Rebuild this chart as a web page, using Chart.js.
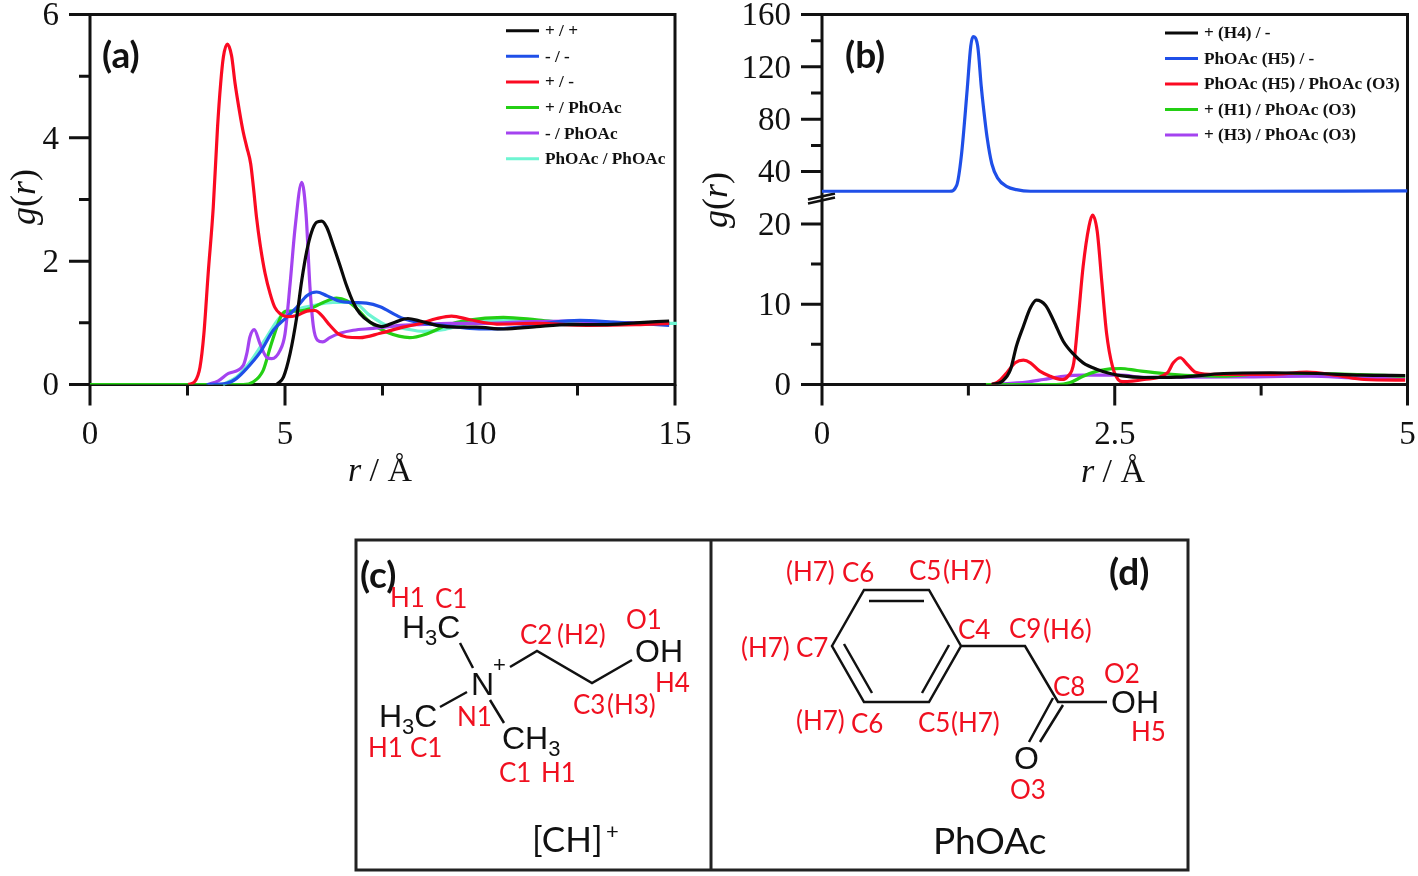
<!DOCTYPE html>
<html>
<head>
<meta charset="utf-8">
<title>g(r)</title>
<script src="https://cdn.jsdelivr.net/npm/chart.js@4"></script>
<style>
  body { margin: 0; background: #fff; width: 1418px; height: 876px; position: relative; overflow: hidden; }
  canvas { position: absolute; top: 0; }
  #chartA { left: 0; }
  #chartB { left: 700px; }
  .axis-title { position: absolute; font: 34px "Liberation Serif", serif; color: #111; white-space: nowrap; transform: translate(-50%, -50%); }
  .axis-title.rot { font-size: 36px; transform: translate(-50%, -50%) rotate(-90deg); }
  svg { position: absolute; left: 0; top: 0; }
  svg .bond { stroke: #111; stroke-width: 2.5; fill: none; }
  svg .atom { font: 32px "Liberation Sans", sans-serif; fill: #111; }
  svg .sub { font-size: 22px; }
  svg .red { font: 26px Lato, sans-serif; fill: #f01020; }
  svg .tag { font: bold 37px Lato, sans-serif; fill: #111; }
  svg .name { font: 37px Lato, sans-serif; fill: #111; }
</style>
</head>
<body>
<canvas id="chartA" width="700" height="490"></canvas>
<canvas id="chartB" width="718" height="490"></canvas>

<div class="axis-title rot" style="left:23px;top:197px"><i>g</i>(<i>r</i>)</div>
<div class="axis-title" style="left:380px;top:470px"><i>r</i> / Å</div>
<div class="axis-title rot" style="left:715px;top:200px"><i>g</i>(<i>r</i>)</div>
<div class="axis-title" style="left:1113px;top:471px"><i>r</i> / Å</div>

<svg width="1418" height="876">
  <text class="tag" x="102" y="68">(a)</text>
  <text class="tag" x="845" y="68">(b)</text>

  <rect x="356" y="540" width="832" height="330" fill="none" stroke="#222" stroke-width="3"/>
  <line x1="711" y1="540" x2="711" y2="870" stroke="#222" stroke-width="3"/>

  <!-- [CH]+ -->
  <path class="bond" d="M460 643L473 668M510 667L537 651L592 683L632 660M467 692L440 707M490 700L504 723"/>
  <text class="atom" x="402" y="638">H<tspan class="sub" dy="7">3</tspan><tspan dy="-7">C</tspan></text>
  <text class="atom" x="471" y="695">N</text>
  <text class="atom" x="493" y="672" style="font-size:22px">+</text>
  <text class="atom" x="635" y="662">OH</text>
  <text class="atom" x="379" y="727">H<tspan class="sub" dy="7">3</tspan><tspan dy="-7">C</tspan></text>
  <text class="atom" x="502" y="749">CH<tspan class="sub" dy="7">3</tspan></text>
  <text class="tag" x="360" y="588">(c)</text>
  <text class="red" x="390" y="607">H1</text>
  <text class="red" x="435" y="608">C1</text>
  <text class="red" x="520" y="644">C2</text>
  <text class="red" x="557" y="644">(H2)</text>
  <text class="red" x="626" y="629">O1</text>
  <text class="red" x="655" y="692">H4</text>
  <text class="red" x="573" y="714">C3</text>
  <text class="red" x="607" y="714">(H3)</text>
  <text class="red" x="457" y="726">N1</text>
  <text class="red" x="368" y="757">H1</text>
  <text class="red" x="410" y="757">C1</text>
  <text class="red" x="499" y="782">C1</text>
  <text class="red" x="541" y="782">H1</text>
  <text class="name" x="532" y="852" style="font-size:35px">[CH]</text>
  <text class="name" x="606" y="839" style="font-size:22px">+</text>

  <!-- PhOAc -->
  <path class="bond" d="M832 646L864 590L929 590L961 646L929 702L864 702ZM869 601L924 601M844 644L872 693M949 645L922 693M961 646L1025 646L1058 702L1107 702M1053 698L1029 742M1063 705L1040 742"/>
  <text class="atom" x="1111" y="713">OH</text>
  <text class="atom" x="1014" y="769">O</text>
  <text class="tag" x="1109" y="585">(d)</text>
  <text class="red" x="786" y="581">(H7)</text>
  <text class="red" x="842" y="582">C6</text>
  <text class="red" x="909" y="580">C5</text>
  <text class="red" x="943" y="580">(H7)</text>
  <text class="red" x="958" y="639">C4</text>
  <text class="red" x="1009" y="638">C9</text>
  <text class="red" x="1043" y="639">(H6)</text>
  <text class="red" x="741" y="657">(H7)</text>
  <text class="red" x="796" y="657">C7</text>
  <text class="red" x="1053" y="696">C8</text>
  <text class="red" x="1104" y="683">O2</text>
  <text class="red" x="1131" y="741">H5</text>
  <text class="red" x="796" y="730">(H7)</text>
  <text class="red" x="851" y="733">C6</text>
  <text class="red" x="918" y="732">C5</text>
  <text class="red" x="951" y="732">(H7)</text>
  <text class="red" x="1010" y="799">O3</text>
  <text class="name" x="933" y="854">PhOAc</text>
</svg>

<script>
// panel (a)
const rBlackA = [4.79, 4.96, 5.13, 5.3, 5.43, 5.56, 5.68, 5.81, 5.94, 6.07, 6.24, 6.41, 6.58, 6.75, 6.92, 7.18, 7.48, 7.82, 8.15, 8.46, 8.89, 9.4, 9.9, 10.6, 11.45, 12.3, 13.16, 14, 14.85];
const gBlackA = [0, 0.12, 0.5, 1.09, 1.69, 2.17, 2.47, 2.63, 2.65, 2.55, 2.25, 1.93, 1.6, 1.33, 1.15, 1.01, 0.94, 1.01, 1.07, 1.03, 0.96, 0.93, 0.93, 0.9, 0.94, 0.97, 0.97, 1, 1.03];
const rBlueA = [2.99, 3.5, 3.76, 4.02, 4.36, 4.7, 5.04, 5.3, 5.56, 5.81, 6.07, 6.41, 6.75, 7.09, 7.44, 7.86, 8.03, 8.46, 9.05, 9.74, 10.26, 11.03, 11.87, 12.56, 13.41, 14.85];
const gBlueA = [0, 0.02, 0.1, 0.26, 0.52, 0.88, 1.09, 1.25, 1.44, 1.5, 1.44, 1.35, 1.33, 1.32, 1.26, 1.12, 1.07, 1, 0.96, 0.91, 0.9, 0.93, 1.01, 1.04, 1.01, 0.96];
const rRedA = [2.52, 2.69, 2.82, 2.92, 3.03, 3.16, 3.27, 3.35, 3.42, 3.52, 3.63, 3.72, 3.83, 3.93, 4.02, 4.12, 4.19, 4.27, 4.36, 4.49, 4.62, 4.74, 4.87, 5.04, 5.3, 5.56, 5.77, 5.94, 6.15, 6.37, 6.58, 6.92, 7.44, 8.03, 8.46, 8.89, 9.27, 9.74, 10.43, 11.45, 12.74, 14, 14.85];
const gRedA = [0, 0.05, 0.28, 0.82, 1.8, 2.87, 4.17, 4.88, 5.31, 5.52, 5.33, 4.88, 4.44, 4.09, 3.85, 3.58, 3.2, 2.71, 2.28, 1.8, 1.47, 1.25, 1.15, 1.1, 1.12, 1.19, 1.2, 1.12, 0.96, 0.82, 0.77, 0.76, 0.83, 0.93, 0.99, 1.07, 1.11, 1.05, 0.98, 0.99, 0.96, 0.97, 0.99];
const rGreenA = [0, 3.93, 4.18, 4.44, 4.62, 4.79, 4.91, 5.04, 5.3, 5.64, 5.98, 6.32, 6.58, 6.84, 7.18, 7.6, 8.2, 8.63, 9.15, 9.66, 10.6, 11.45, 12.3, 13.2, 14.85];
const gGreenA = [0, 0, 0.04, 0.23, 0.6, 0.93, 1.12, 1.19, 1.19, 1.23, 1.33, 1.4, 1.36, 1.23, 1.01, 0.85, 0.76, 0.82, 0.96, 1.04, 1.09, 1.05, 1, 1, 1];
const rPurpleA = [3.03, 3.29, 3.55, 3.93, 4.02, 4.1, 4.21, 4.36, 4.53, 4.66, 4.87, 5, 5.13, 5.26, 5.43, 5.54, 5.64, 5.73, 5.83, 5.97, 6.15, 6.41, 6.75, 7.26, 7.95, 8.38, 9.23, 10.1, 11.3, 12.3, 13.16, 14.85];
const gPurpleA = [0, 0.06, 0.18, 0.31, 0.5, 0.77, 0.89, 0.66, 0.44, 0.42, 0.55, 0.82, 1.63, 2.55, 3.28, 2.76, 1.58, 0.93, 0.72, 0.69, 0.76, 0.83, 0.88, 0.91, 0.96, 0.97, 0.99, 0.99, 1.02, 1.03, 1.01, 0.99];
const rAquaA = [3.41, 3.76, 4.1, 4.53, 4.87, 5.2, 5.72, 6.23, 6.75, 7.18, 7.6, 8.03, 8.55, 9.05, 9.49, 10.08, 11.1, 12.3, 15.05];
const gAquaA = [0, 0.12, 0.36, 0.77, 1.09, 1.2, 1.28, 1.33, 1.33, 1.12, 0.96, 0.91, 0.86, 0.89, 0.96, 1.04, 1.04, 1.01, 0.99];

// panel (b), blue is read on the upper part of the broken axis
const rBlackB = [1.45, 1.54, 1.61, 1.66, 1.72, 1.78, 1.83, 1.91, 1.98, 2.06, 2.15, 2.23, 2.35, 2.46, 2.55, 2.75, 3.03, 3.43, 3.83, 4.23, 4.6, 4.98];
const gBlackB = [0, 0.41, 1.87, 4.77, 7.26, 9.55, 10.5, 9.84, 7.88, 5.39, 3.74, 2.7, 1.87, 1.37, 1.1, 0.87, 0.91, 1.37, 1.46, 1.37, 1.16, 1.12];
const rBlueB = [0, 1.09, 1.15, 1.19, 1.24, 1.27, 1.29, 1.33, 1.36, 1.38, 1.41, 1.45, 1.5, 1.58, 1.66, 1.78, 3.5, 5];
const gBlueB = [25, 25, 29.4, 52, 102.8, 135.6, 143.2, 135.6, 105, 88, 66, 46, 35, 28.5, 26.2, 25, 25, 25.2];
const rRedB = [1.45, 1.5, 1.58, 1.65, 1.72, 1.78, 1.86, 1.95, 2.05, 2.1, 2.15, 2.19, 2.23, 2.28, 2.31, 2.35, 2.39, 2.43, 2.48, 2.53, 2.57, 2.75, 2.95, 3, 3.06, 3.12, 3.19, 3.37, 3.83, 4.14, 4.4, 4.63, 4.98];
const gRedB = [0, 0.29, 1.5, 2.7, 3.03, 2.7, 1.66, 1.03, 0.62, 1.03, 2.7, 8.5, 14.7, 19.7, 21.1, 19.1, 12.7, 6.4, 2.28, 0.6, 0.35, 0.62, 1.46, 2.7, 3.33, 2.49, 1.53, 1.25, 1.25, 1.53, 1.12, 0.62, 0.54];
const rGreenB = [1.4, 2, 2.12, 2.23, 2.35, 2.46, 2.55, 2.69, 2.92, 3.15, 3.4, 3.83, 4.23, 4.98];
const gGreenB = [0, 0, 0.25, 1.03, 1.66, 1.95, 1.99, 1.74, 1.37, 1.12, 1.03, 1.37, 1.37, 1.03];
const rPurpleB = [1.45, 1.75, 1.89, 2.06, 2.23, 2.55, 2.75, 3.17, 3.6, 4.17, 4.63, 4.98];
const gPurpleB = [0, 0.29, 0.62, 1.03, 1.16, 1.16, 0.9, 0.91, 0.95, 1.03, 0.81, 0.81];

// ticks
const xMajorA = [0, 5, 10, 15], xMinorA = [2.5, 7.5, 12.5];
const yMajorA = [0, 2, 4, 6], yMinorA = [1, 3, 5];
const xMajorB = [0, 2.5, 5], xMinorB = [1.25, 3.75];
const yLowMajor = [0, 10, 20], yLowMinor = [5, 15];
const yUpMajor = [40, 80, 120, 160], yUpMinor = [60, 100, 140];

const BLACK = "#0a0a0a", BLUE = "#1f4fe8", RED = "#fb0a22", GREEN = "#24cf14", PURPLE = "#a443f0", AQUA = "#6ef5d2";

const zip = (xs, ys) => xs.map((x, i) => ({ x, y: ys[i] }));

function series(label, color, xs, ys, order, extra) {
  return Object.assign({
    label, order,
    data: zip(xs, ys),
    borderColor: color,
    borderWidth: 3.2,
    pointRadius: 0,
    cubicInterpolationMode: "monotone",
  }, extra);
}

function axis(major, minor, extra, labelOffset = 0) {
  const ticks = major.concat(minor);
  return Object.assign({
    type: "linear",
    border: { display: false },
    grid: { display: false, drawTicks: false },
    afterBuildTicks: (scale) => { scale.ticks = ticks.map((value) => ({ value })); },
    ticks: {
      autoSkip: false,
      maxRotation: 0,
      padding: 31,
      labelOffset,
      color: "#111",
      font: { family: "Liberation Serif", size: 33 },
      callback: (v) => (major.includes(v) ? String(v) : ""),
    },
  }, extra);
}

// frame, major/minor ticks, axis break and the in-plot legend
const decor = {
  id: "decor",
  beforeDatasetsDraw(chart) {
    const { ctx, chartArea: a, scales } = chart;
    ctx.save();
    ctx.strokeStyle = "#111";
    ctx.lineWidth = 3;
    ctx.lineCap = "butt";
    ctx.strokeRect(a.left, a.top, a.right - a.left, a.bottom - a.top);
    ctx.beginPath();
    Object.values(scales).forEach((s) => {
      s.ticks.forEach((t) => {
        const len = t.label ? 21 : 11;
        const p = s.getPixelForValue(t.value);
        if (s.isHorizontal()) {
          ctx.moveTo(p, a.bottom);
          ctx.lineTo(p, a.bottom + len);
        } else {
          ctx.moveTo(a.left, p);
          ctx.lineTo(a.left - len, p);
        }
      });
    });
    ctx.stroke();
    if (scales.yUp) {
      const y0 = scales.yUp.bottom;
      ctx.lineWidth = 2.5;
      ctx.beginPath();
      ctx.moveTo(a.left - 14, y0 + 5);
      ctx.lineTo(a.left + 13, y0 - 1);
      ctx.moveTo(a.left - 14, y0 + 1);
      ctx.lineTo(a.left + 13, y0 - 5);
      ctx.stroke();
    }
    ctx.restore();
  },
  afterDatasetsDraw(chart, args, opts) {
    const { ctx } = chart;
    ctx.save();
    ctx.font = 'bold 17.2px "Liberation Serif"';
    ctx.textBaseline = "middle";
    chart.data.datasets.forEach((ds, i) => {
      const y = opts.y + i * opts.step;
      ctx.strokeStyle = ds.borderColor;
      ctx.lineWidth = 3;
      ctx.beginPath();
      ctx.moveTo(opts.x, y);
      ctx.lineTo(opts.x + 33, y);
      ctx.stroke();
      ctx.fillStyle = "#111";
      ctx.fillText(ds.label, opts.x + 39, y + 1);
    });
    ctx.restore();
  },
};

function baseOptions(rightPad, legendPos) {
  return {
    responsive: false,
    animation: false,
    events: [],
    layout: { autoPadding: false, padding: { top: 14.5, right: rightPad, left: 0, bottom: 0 } },
    plugins: { legend: { display: false }, tooltip: { enabled: false }, decor: legendPos },
  };
}

// fixed axis sizes so the plot areas land where the picture has them
function noPad(s) {
  s.paddingTop = s.paddingBottom = s.paddingLeft = s.paddingRight = 0;
}
const fixW = (w) => (s) => { s.width = w; noPad(s); };
const fixH = (h) => (s) => { s.height = h; noPad(s); };

new Chart(document.getElementById("chartA"), {
  type: "line",
  plugins: [decor],
  data: {
    datasets: [
      series("+ / +", BLACK, rBlackA, gBlackA, 0),
      series("- / -", BLUE, rBlueA, gBlueA, 2),
      series("+ / -", RED, rRedA, gRedA, 1),
      series("+ / PhOAc", GREEN, rGreenA, gGreenA, 4),
      series("- / PhOAc", PURPLE, rPurpleA, gPurpleA, 3),
      series("PhOAc / PhOAc", AQUA, rAquaA, gAquaA, 5, { clip: false }),
    ],
  },
  options: Object.assign(baseOptions(25, { x: 506, y: 30.7, step: 25.6 }), {
    scales: {
      x: axis(xMajorA, xMinorA, { min: 0, max: 15, afterFit: fixH(105.5) }),
      y: axis(yMajorA, yMinorA, { min: 0, max: 6, afterFit: fixW(90) }, 2),
    },
  }),
});

new Chart(document.getElementById("chartB"), {
  type: "line",
  plugins: [decor],
  data: {
    datasets: [
      series("+ (H4) / -", BLACK, rBlackB, gBlackB, 0, { yAxisID: "yLow" }),
      series("PhOAc (H5) / -", BLUE, rBlueB, gBlueB, 1, { yAxisID: "yUp" }),
      series("PhOAc (H5) / PhOAc (O3)", RED, rRedB, gRedB, 2, { yAxisID: "yLow" }),
      series("+ (H1) / PhOAc (O3)", GREEN, rGreenB, gGreenB, 3, { yAxisID: "yLow" }),
      series("+ (H3) / PhOAc (O3)", PURPLE, rPurpleB, gPurpleB, 4, { yAxisID: "yLow" }),
    ],
  },
  options: Object.assign(baseOptions(10.5, { x: 465, y: 33, step: 25.5 }), {
    scales: {
      x: axis(xMajorB, xMinorB, { min: 0, max: 5, afterFit: fixH(105.5) }),
      yLow: axis(yLowMajor, yLowMinor, { min: 0, max: 23.16, position: "left", stack: "g", stackWeight: 186, afterFit: fixW(122) }, 2),
      yUp: axis(yUpMajor, yUpMinor, { min: 19.45, max: 160, position: "left", stack: "g", stackWeight: 184, afterFit: fixW(122) }, 2),
    },
  }),
});
</script>
</body>
</html>
